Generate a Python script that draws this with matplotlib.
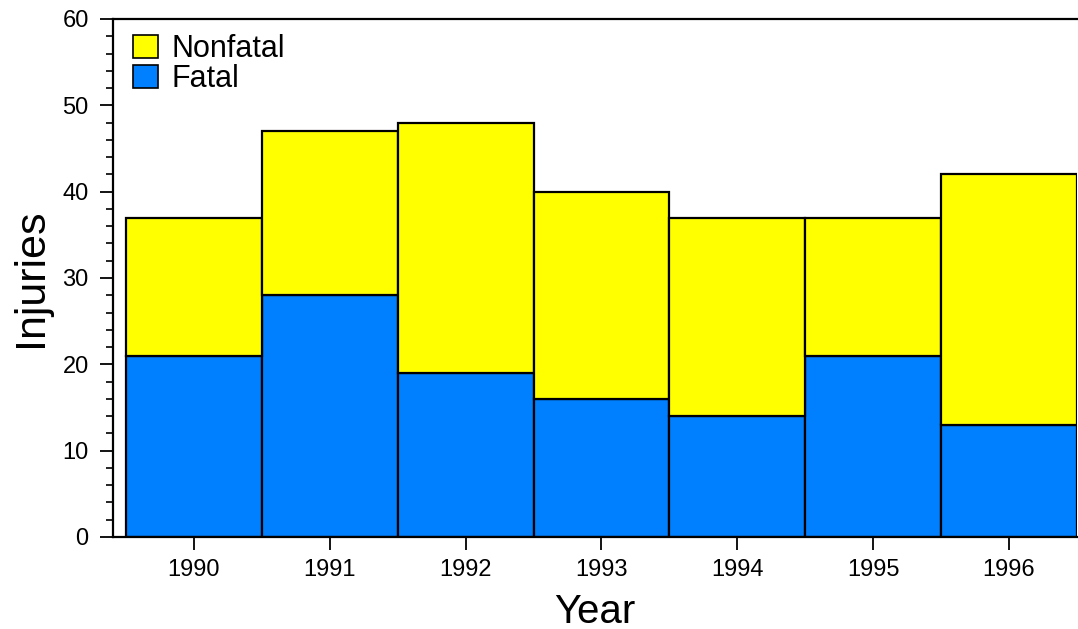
import matplotlib.pyplot as plt
from matplotlib.ticker import MultipleLocator
from matplotlib.patches import Patch
import numpy as np

plt.rcParams['font.family'] = ['Liberation Sans', 'DejaVu Sans']

# Data
years = ['1990', '1991', '1992', '1993', '1994', '1995', '1996']
fatal = [21, 28, 19, 16, 14, 21, 13]
nonfatal = [16, 19, 29, 24, 23, 16, 29]

yellow = '#FFFF00'
blue = '#007FFF'

fig = plt.figure(figsize=(10.78, 6.29), dpi=100)
ax = fig.add_axes([0.1048, 0.1463, 0.8942, 0.8235])

x = np.arange(len(years))
ax.bar(x, fatal, width=1.0, color=blue, edgecolor='black', linewidth=1.6)
ax.bar(x, nonfatal, width=1.0, bottom=fatal, color=yellow,
       edgecolor='black', linewidth=1.6)

ax.set_xlim(-0.596, 6.5)
ax.set_ylim(0, 60)
ax.set_xticks(x)
ax.set_xticklabels(years)
ax.yaxis.set_major_locator(MultipleLocator(10))
ax.yaxis.set_minor_locator(MultipleLocator(2))

ax.spines['right'].set_visible(False)
for s in ['left', 'top', 'bottom']:
    ax.spines[s].set_linewidth(1.6)

ax.tick_params(axis='both', which='major', direction='out', length=9.5,
               width=1.3, labelsize=17)
ax.tick_params(axis='y', which='minor', direction='out', length=5, width=1.2)
ax.tick_params(axis='x', which='major', pad=6)
ax.tick_params(axis='y', which='major', pad=8)

ax.set_ylabel('Injuries', fontsize=31, labelpad=8)
ax.set_xlabel('Year', fontsize=29, labelpad=9)

handles = [Patch(facecolor=yellow, edgecolor='black', linewidth=1.2, label='Nonfatal'),
           Patch(facecolor=blue, edgecolor='black', linewidth=1.2, label='Fatal')]
ax.legend(handles=handles, loc='upper left', frameon=False, fontsize=22,
          handlelength=0.8, handleheight=0.8, handletextpad=0.45,
          labelspacing=0.0, borderaxespad=0.2, borderpad=0.3,
          bbox_to_anchor=(0.005, 1.0))

plt.savefig('out.png', dpi=100)
